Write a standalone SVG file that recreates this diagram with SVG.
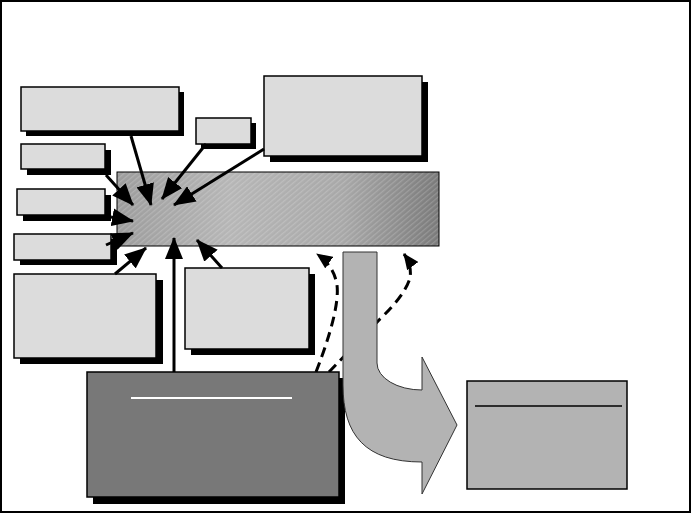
<svg xmlns="http://www.w3.org/2000/svg" width="691" height="514" viewBox="0 0 691 514">
<style>
.box{fill:#dcdcdc;stroke:#000;stroke-width:1.5}
.shd{fill:#000}
.con{stroke:#000;stroke-width:3;fill:none;marker-end:url(#ah)}
.dash{stroke:#000;stroke-width:3;fill:none;stroke-dasharray:10 6;marker-end:url(#ahs)}
</style>
<defs>
<marker id="ah" markerUnits="userSpaceOnUse" markerWidth="22" markerHeight="18" refX="21" refY="9" orient="auto">
<path d="M0,0 L22,9 L0,18 Z" fill="#000"/>
</marker>
<marker id="ahs" markerUnits="userSpaceOnUse" markerWidth="16" markerHeight="14" refX="15" refY="7" orient="auto">
<path d="M0,0 L16,7 L0,14 Z" fill="#000"/>
</marker>
<linearGradient id="barg" x1="0" y1="0" x2="1" y2="0">
<stop offset="0" stop-color="#9c9c9c"/>
<stop offset="0.35" stop-color="#b6b6b6"/>
<stop offset="0.7" stop-color="#a8a8a8"/>
<stop offset="1" stop-color="#7a7a7a"/>
</linearGradient>
<pattern id="hatch" width="4" height="4" patternUnits="userSpaceOnUse" patternTransform="rotate(-40)">
<rect width="4" height="1.3" fill="#ffffff" fill-opacity="0.18"/>
</pattern>
</defs>
<rect x="1" y="1" width="689" height="511" fill="#fff" stroke="#000" stroke-width="2"/>

<g id="node-main">
<rect x="117" y="172" width="322" height="74" fill="url(#barg)"/>
<rect x="117" y="172" width="322" height="74" fill="url(#hatch)" stroke="#000" stroke-width="1"/>
</g>

<g id="node-tl"><rect class="shd" x="26" y="92" width="158" height="44"/><rect class="box" x="21" y="87" width="158" height="44"/></g>
<g id="node-small"><rect class="shd" x="201" y="123" width="55" height="26"/><rect class="box" x="196" y="118" width="55" height="26"/></g>
<g id="node-tr"><rect class="shd" x="270" y="82" width="158" height="80"/><rect class="box" x="264" y="76" width="158" height="80"/></g>
<g id="node-l1"><rect class="shd" x="27" y="150" width="84" height="25"/><rect class="box" x="21" y="144" width="84" height="25"/></g>
<g id="node-l2"><rect class="shd" x="23" y="195" width="88" height="26"/><rect class="box" x="17" y="189" width="88" height="26"/></g>
<g id="node-l3"><rect class="shd" x="20" y="239" width="97" height="26"/><rect class="box" x="14" y="234" width="97" height="26"/></g>
<g id="node-bl"><rect class="shd" x="20" y="280" width="143" height="84"/><rect class="box" x="14" y="274" width="142" height="84"/></g>
<g id="node-mid"><rect class="shd" x="191" y="274" width="124" height="81"/><rect class="box" x="185" y="268" width="124" height="81"/></g>

<g id="connectors">
<path class="dash" d="M316,372 Q340,310 337,285 Q334,266 317,254"/>
<path class="dash" d="M329,372 L380,319 Q405,295 410,278 Q412,265 404,254"/>
<line class="con" x1="131" y1="136" x2="151" y2="205"/>
<line class="con" x1="206" y1="144" x2="162" y2="199"/>
<line class="con" x1="264" y1="149" x2="174" y2="205"/>
<line class="con" x1="106" y1="175" x2="133" y2="205"/>
<line class="con" x1="111" y1="217" x2="133" y2="221"/>
<line class="con" x1="106" y1="245" x2="133" y2="233"/>
<line class="con" x1="115" y1="274" x2="146" y2="248"/>
<line class="con" x1="174" y1="372" x2="174" y2="238"/>
<line class="con" x1="222" y1="268" x2="197" y2="240"/>
</g>

<g id="node-dark">
<rect class="shd" x="93" y="378" width="252" height="126"/>
<rect x="87" y="372" width="252" height="125" fill="#787878" stroke="#000" stroke-width="1.5"/>
<line x1="131" y1="398" x2="292" y2="398" stroke="#fff" stroke-width="2"/>
</g>

<g id="big-arrow">
<path d="M343,252 L377,252 L377,363 A45,27 0 0 0 422,390 L422,357 L457,425 L422,494 L422,462 C365,462 343,435 343,385 Z" fill="#b3b3b3" stroke="#333" stroke-width="1"/>
</g>

<g id="node-right">
<rect x="467" y="381" width="160" height="108" fill="#b3b3b3" stroke="#000" stroke-width="1.5"/>
<line x1="475" y1="406" x2="622" y2="406" stroke="#000" stroke-width="1.5"/>
</g>
</svg>
